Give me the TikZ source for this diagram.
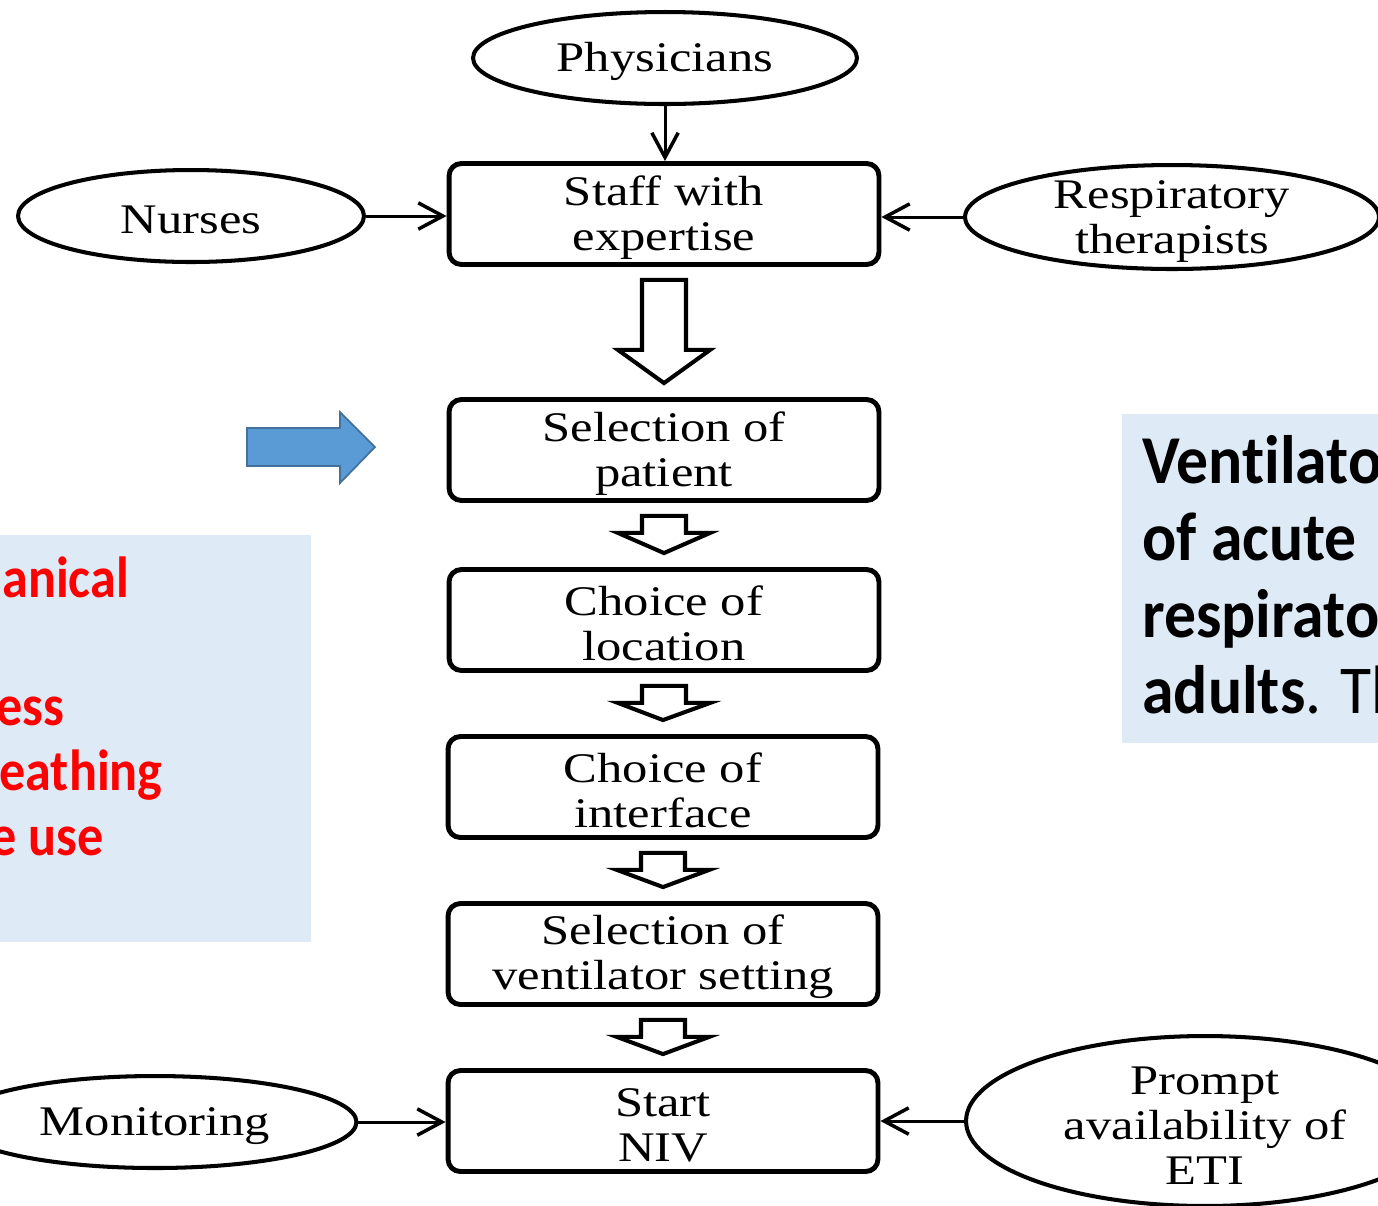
\documentclass[tikz,border=0pt]{standalone}
\usepackage{fontspec}
\setmainfont{Liberation Serif}
\newfontfamily\flowfont[FakeStretch=1.2]{Liberation Serif}
\newfontfamily\panelfont[FakeStretch=0.9,Ligatures=NoCommon]{Carlito}
\newfontfamily\notefont[FakeStretch=0.93,Ligatures=NoCommon]{Carlito}
\usetikzlibrary{positioning,calc,arrows.meta,shapes.geometric}
\tikzset{>={Straight Barb[length=14pt,width=15pt,line width=2pt]}}
\newcommand{\topstrut}{\rule{0pt}{20.5pt}}

\definecolor{panelblue}{RGB}{222,235,247}
\definecolor{arrowblue}{RGB}{91,155,213}
\definecolor{arrowedge}{RGB}{65,113,156}

\tikzset{
  flowbox/.style={draw, line width=2.8pt, rounded corners=7pt, minimum width=8.6cm, minimum height=2.02cm,
    align=center, inner sep=0pt, font=\flowfont\fontsize{24}{25.6}\selectfont},
  oval/.style={draw, ellipse, line width=2.3pt, inner sep=0pt, align=center,
    font=\flowfont\fontsize{24}{25.6}\selectfont},
  conn/.style={line width=1.7pt},
  hollow/.style={draw, fill=white, line width=2.3pt, line join=miter},
  redline/.style={anchor=base west, inner sep=0pt, text=red, font=\panelfont\bfseries\fontsize{33}{36}\selectfont},
  blackline/.style={anchor=base west, inner sep=0pt, font=\notefont\fontsize{39}{44}\selectfont},
}

% hollow block arrow from one box down to the next
\newcommand{\blockarrow}[4]{%
  \draw[hollow] ($(#1.south)+(-22,13)$) -- ($(#1.south)+(22,13)$) -- ($(#1.south)+(22,#3)$)
    -- ($(#1.south)+(#4,#3)$) -- ($(#2.north)+(0,-14)$) -- ($(#1.south)+(-#4,#3)$)
    -- ($(#1.south)+(-22,#3)$) -- cycle;}

\begin{document}
\begin{tikzpicture}[x=0.02cm,y=-0.02cm]
\useasboundingbox (0,0) rectangle (1378,1205);

% side panels
\fill[panelblue] (0,535) rectangle (311,942);
\fill[panelblue] (1122,414) rectangle (1378,743);
\foreach \txt/\xx/\yy [count=\k] in {anical/2/597, ess/-4/725, eathing/-1/790, e use/-10/855}
  \node[redline] (redline\k) at (\xx,\yy) {\txt};
\foreach \txt/\yy [count=\k] in {{\bfseries Ventilato}/483, {\bfseries of acute}/560, {\bfseries respirato}/637, {\bfseries adults}. Th/713}
  \node[blackline] (note\k) at (1142,\yy) {\txt};

% pointer
\draw[fill=arrowblue, draw=arrowedge, line width=1pt, line join=miter]
  (247,428) -- (340,428) -- (340,412) -- (375,447) -- (340,483) -- (340,466) -- (247,466) -- cycle;

% main column
\node[oval, minimum width=7.68cm, minimum height=1.84cm] (phys) at (665,58) {\topstrut Physicians};
\node[flowbox] (staff) at (664,214) {\topstrut Staff with\\expertise};
\node[oval, minimum width=6.92cm, minimum height=1.84cm] (nurses) at (191,216) {\topstrut Nurses};
\node[oval, minimum width=8.28cm, minimum height=2.08cm, inner ysep=-5pt] (resp) at (1172,217) {\topstrut Respiratory\\therapists};
\node[flowbox] (patient) at (664,450) {\topstrut Selection of\\patient};
\node[flowbox] (location) at (664,620) {\topstrut Choice of\\location};
\node[flowbox] (interface) at (663,787) {\topstrut Choice of\\interface};
\node[flowbox] (setting) at (663,954) {\topstrut Selection of\\ventilator setting};
\node[flowbox] (niv) at (663,1121) {\topstrut Start\\NIV};
\node[oval, minimum width=8.06cm, minimum height=1.84cm] (monitor) at (155,1122) {\topstrut Monitoring};
\node[oval, minimum width=9.56cm, minimum height=3.4cm, inner ysep=-4pt] (eti) at (1205,1121) {\topstrut Prompt\\availability of\\ETI};

% connectors
\draw[conn,->] (phys.south) -- (phys.south |- staff.north);
\draw[conn,->] (nurses.east) -- (nurses.east -| staff.west);
\draw[conn,->] (resp.west) -- (resp.west -| staff.east);
\draw[conn,->] (monitor.east) -- (monitor.east -| niv.west);
\draw[conn,->] (eti.west) -- (eti.west -| niv.east);

\blockarrow{staff}{patient}{83}{46}
\blockarrow{patient}{location}{30}{46}
\blockarrow{location}{interface}{30}{46}
\blockarrow{interface}{setting}{30}{46}
\blockarrow{setting}{niv}{30}{46}
\end{tikzpicture}
\end{document}
